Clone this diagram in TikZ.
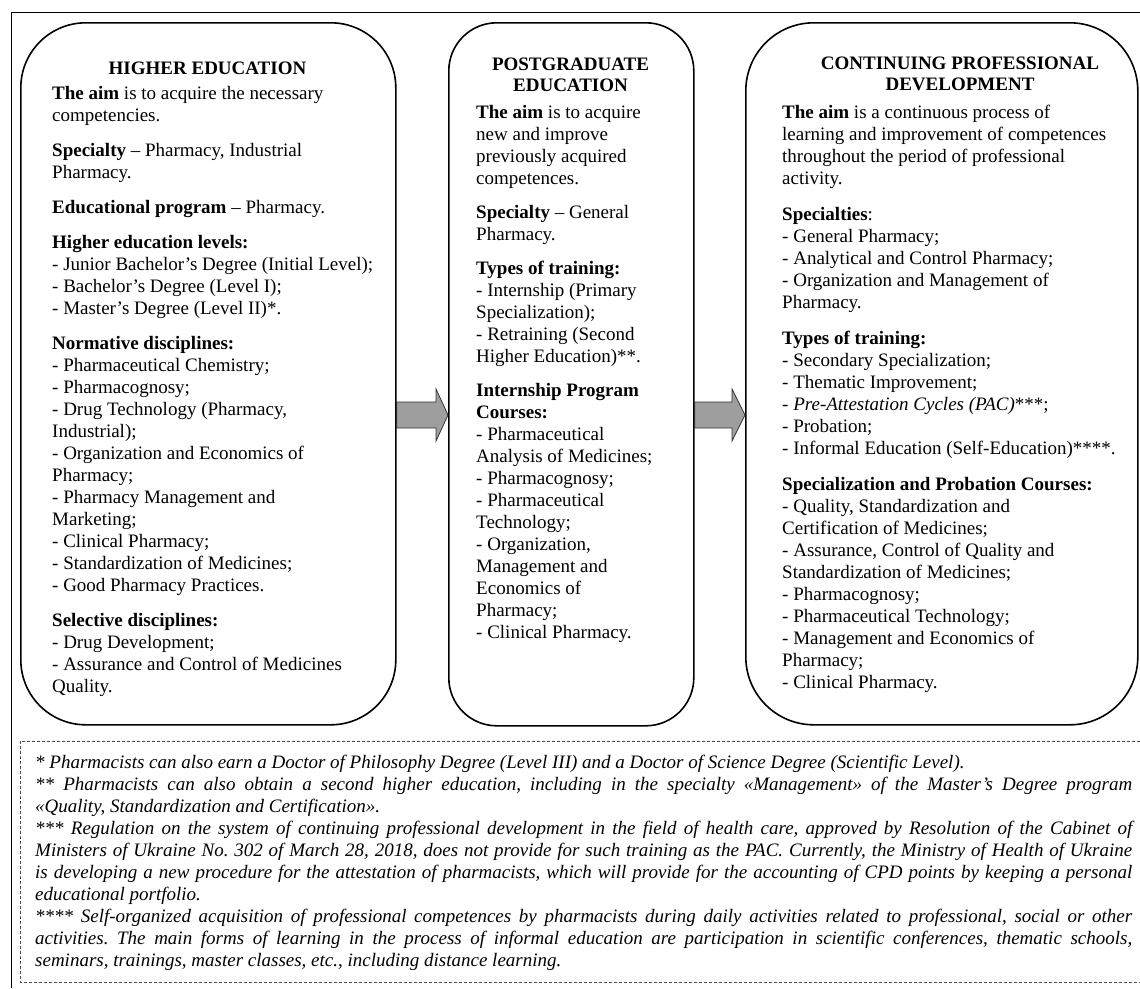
\documentclass[tikz,border=0pt]{standalone}
\usepackage{fontspec}
\setmainfont{Liberation Serif}
\usetikzlibrary{calc}
\hbadness=10000
\frenchspacing
\tikzset{
  stage/.style={draw=black, line width=1.6pt, rounded corners=#1, anchor=north west, inner sep=0pt},
  body/.style={anchor=north west, inner sep=0pt, align=left, font=\fontsize{19}{22}\selectfont},
  ttl/.style={anchor=north, inner sep=0pt, align=center, font=\fontsize{19}{21}\selectfont\bfseries},
  blockarrow/.style={draw=black!80, line width=0.8pt, fill=black!38, line join=miter},
  notebox/.style={draw=black!70, line width=0.9pt, dash pattern=on 3pt off 2pt},
  note/.style={anchor=north west, inner sep=0pt, text width=1097pt, align=justify, font=\fontsize{19}{22}\selectfont\itshape},
  frame/.style={draw=black, line width=0.8pt}
}
\begin{document}
\begin{tikzpicture}[x=1pt,y=-1pt]
\useasboundingbox (0,0) rectangle (1140,988);
% outer frame (cropped)
\draw[frame] (1140,12) -- (11,12) -- (11,988);
% stage boxes
\node[stage=65pt, minimum width=375pt, minimum height=702pt] (he) at (20,22) {};
\node[stage=48pt, minimum width=245pt, minimum height=703pt] (pg) at (448,22) {};
\node[stage=68pt, minimum width=392pt, minimum height=702pt] (cpd) at (745,22) {};
% titles
\node[ttl] (het) at (207.5,57) {\rule{0pt}{17pt}HIGHER EDUCATION};
\node[ttl] (pgt) at (570.5,53) {\rule{0pt}{17pt}POSTGRADUATE\\EDUCATION};
\node[ttl] (cpdt) at (960,52) {\rule{0pt}{17pt}CONTINUING PROFESSIONAL\\DEVELOPMENT};
% box 1 text
\node[body] (heb) at (52,82) {\rule{0pt}{17pt}\textbf{The aim} is to acquire the necessary\\
competencies.\\[13pt]
\textbf{Specialty} – Pharmacy, Industrial\\
Pharmacy.\\[13pt]
\textbf{Educational program} – Pharmacy.\\[13pt]
\textbf{Higher education levels:}\\
- Junior Bachelor’s Degree (Initial Level);\\
- Bachelor’s Degree (Level I);\\
- Master’s Degree (Level II)*.\\[13pt]
\textbf{Normative disciplines:}\\
- Pharmaceutical Chemistry;\\
- Pharmacognosy;\\
- Drug Technology (Pharmacy,\\
Industrial);\\
- Organization and Economics of\\
Pharmacy;\\
- Pharmacy Management and\\
Marketing;\\
- Clinical Pharmacy;\\
- Standardization of Medicines;\\
- Good Pharmacy Practices.\\[13pt]
\textbf{Selective disciplines:}\\
- Drug Development;\\
- Assurance and Control of Medicines\\
Quality.};
% box 2 text
\node[body] (pgb) at (476,101) {\rule{0pt}{17pt}\textbf{The aim} is to acquire\\
new and improve\\
previously acquired\\
competences.\\[12pt]
\textbf{Specialty} – General\\
Pharmacy.\\[12pt]
\textbf{Types of training:}\\
- Internship (Primary\\
Specialization);\\
- Retraining (Second\\
Higher Education)**.\\[12pt]
\textbf{Internship Program}\\
\textbf{Courses:}\\
- Pharmaceutical\\
Analysis of Medicines;\\
- Pharmacognosy;\\
- Pharmaceutical\\
Technology;\\
- Organization,\\
Management and\\
Economics of\\
Pharmacy;\\
- Clinical Pharmacy.};
% box 3 text
\node[body] (cpdb) at (782,101) {\rule{0pt}{17pt}\textbf{The aim} is a continuous process of\\
learning and improvement of competences\\
throughout the period of professional\\
activity.\\[14pt]
\textbf{Specialties}:\\
- General Pharmacy;\\
- Analytical and Control Pharmacy;\\
- Organization and Management of\\
Pharmacy.\\[14pt]
\textbf{Types of training:}\\
- Secondary Specialization;\\
- Thematic Improvement;\\
- \textit{Pre-Attestation Cycles (PAC)}***;\\
- Probation;\\
- Informal Education (Self-Education)****.\\[14pt]
\textbf{Specialization and Probation Courses:}\\
- Quality, Standardization and\\
Certification of Medicines;\\
- Assurance, Control of Quality and\\
Standardization of Medicines;\\
- Pharmacognosy;\\
- Pharmaceutical Technology;\\
- Management and Economics of\\
Pharmacy;\\
- Clinical Pharmacy.};
% block arrows
\draw[blockarrow] (he.east |- 0,402) -- (436,402) -- (436,389) -- (pg.west |- 0,415) -- (436,441) -- (436,428) -- (he.east |- 0,428) -- cycle;
\draw[blockarrow] (pg.east |- 0,402) -- (732,402) -- (732,389) -- (cpd.west |- 0,415) -- (732,441) -- (732,428) -- (pg.east |- 0,428) -- cycle;
% notes
\draw[notebox] (1140,741) -- (20,741) -- (20,982) -- (1140,982);
\node[note] (fn) at (35,751) {\parindent=0pt\parskip=0pt\rule{0pt}{17pt}* Pharmacists can also earn a Doctor of Philosophy Degree (Level III) and a Doctor of Science Degree (Scientific Level).\par
** Pharmacists can also obtain a second higher education, including in the specialty «Management» of the Master’s Degree program\linebreak
«Quality, Standardization and Certification».\par
*** Regulation on the system of continuing professional development in the field of health care, approved by Resolution of the Cabinet of\linebreak
Ministers of Ukraine No. 302 of March 28, 2018, does not provide for such training as the PAC. Currently, the Ministry of Health of Ukraine\linebreak
is developing a new procedure for the attestation of pharmacists, which will provide for the accounting of CPD points by keeping a personal\linebreak
educational portfolio.\par
**** Self-organized acquisition of professional competences by pharmacists during daily activities related to professional, social or other\linebreak
activities. The main forms of learning in the process of informal education are participation in scientific conferences, thematic schools,\linebreak
seminars, trainings, master classes, etc., including distance learning.};
\end{tikzpicture}
\end{document}
